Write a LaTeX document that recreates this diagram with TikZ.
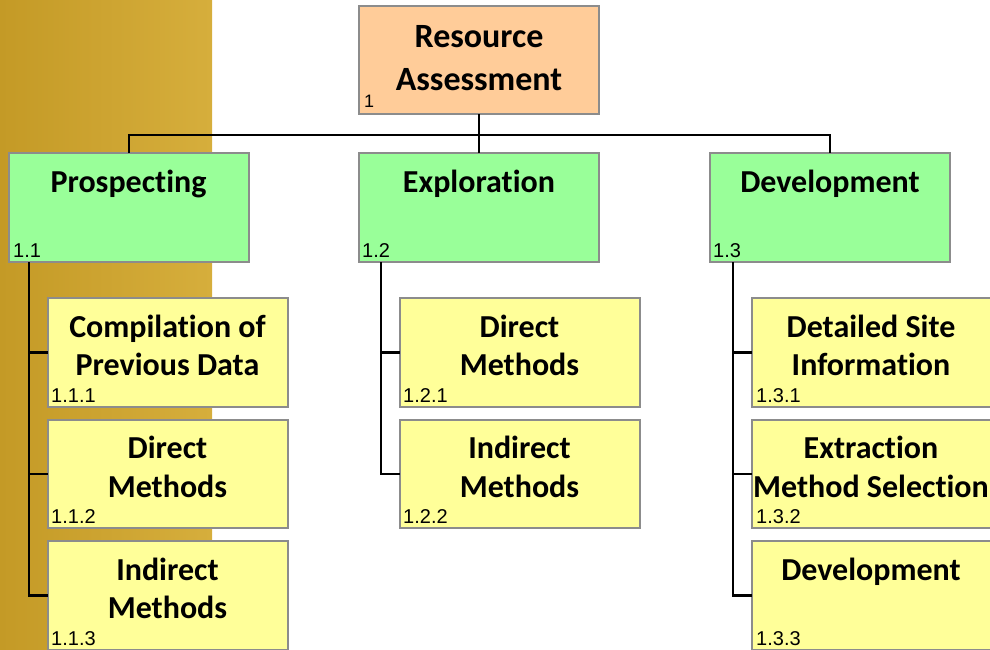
\documentclass[tikz,border=0pt]{standalone}
\usepackage{fontspec}
\newfontfamily\calb{Carlito}[BoldFont=* Bold, Ligatures=NoCommon]
\newfontfamily\arialf{Liberation Sans}
\definecolor{peach}{HTML}{FFCC99}
\definecolor{lgreen}{HTML}{99FF99}
\definecolor{lyellow}{HTML}{FFFF99}
\definecolor{boxgray}{HTML}{8C8C8C}
\definecolor{goldL}{HTML}{C49A26}
\definecolor{goldR}{HTML}{D6AE3C}
\begin{document}
\begin{tikzpicture}[x=1pt,y=-1pt,
  box/.style={draw=boxgray, line width=1.5pt, inner sep=0pt, outer sep=0pt, minimum width=240pt, minimum height=109pt, anchor=north west},
  rootbox/.style={box, fill=peach, minimum height=108pt},
  l1box/.style={box, fill=lgreen},
  l2box/.style={box, fill=lyellow},
  title/.style={font=\calb\bfseries\fontsize{32}{38}\selectfont, anchor=base, inner sep=0pt},
  roottitle/.style={title, font=\calb\bfseries\fontsize{34}{41}\selectfont},
  num/.style={font=\arialf\fontsize{20}{24}\selectfont, anchor=base west, inner sep=0pt},
  conn/.style={line width=2.8pt, black, line join=miter}]
\useasboundingbox (0,0) rectangle (990,649);
\fill[left color=goldL, right color=goldR] (0,0) rectangle (212,649);

% boxes
\node[rootbox] (n1) at (359,6) {};
\node[l1box] (n11) at (9,153) {};
\node[l1box] (n12) at (359,153) {};
\node[l1box] (n13) at (710,153) {};
\node[l2box] (n111) at (48,298) {};
\node[l2box, minimum height=108pt] (n112) at (48,420) {};
\node[l2box] (n113) at (48,541) {};
\node[l2box] (n121) at (400,298) {};
\node[l2box, minimum height=108pt] (n122) at (400,420) {};
\node[l2box] (n131) at (752,298) {};
\node[l2box, minimum height=108pt] (n132) at (752,420) {};
\node[l2box] (n133) at (752,541) {};

% connectors
\coordinate (bus) at (479,135);
\draw[conn] (n1.south) -- (n12.north);
\draw[conn] (n11.north) -- (n11.north |- bus) -- (n13.north |- bus) -- (n13.north);
\draw[conn] ([xshift=20pt]n11.south west) |- (n111.west);
\draw[conn] ([xshift=20pt]n11.south west) |- (n112.west);
\draw[conn] ([xshift=20pt]n11.south west) |- (n113.west);
\draw[conn] ([xshift=22pt]n12.south west) |- (n121.west);
\draw[conn] ([xshift=22pt]n12.south west) |- (n122.west);
\draw[conn] ([xshift=23pt]n13.south west) |- (n131.west);
\draw[conn] ([xshift=23pt]n13.south west) |- (n132.west);
\draw[conn] ([xshift=23pt]n13.south west) |- (n133.west);

% titles
\node[roottitle] (t1a) at (479,47) {Resource};
\node[roottitle] (t1b) at (479,90) {Assessment};
\node[title] (t11) at (128.5,192) {Prospecting};
\node[title] (t12) at (479,192) {Exploration};
\node[title] (t13) at (830,192) {Development};
\node[title] (t111a) at (167.5,337) {Compilation of};
\node[title] (t111b) at (167.5,375) {Previous Data};
\node[title] (t112a) at (167.5,458) {Direct};
\node[title] (t112b) at (167.5,497) {Methods};
\node[title] (t113a) at (167.5,580) {Indirect};
\node[title] (t113b) at (167.5,618) {Methods};
\node[title] (t121a) at (519.5,337) {Direct};
\node[title] (t121b) at (519.5,375) {Methods};
\node[title] (t122a) at (519.5,458) {Indirect};
\node[title] (t122b) at (519.5,497) {Methods};
\node[title] (t131a) at (871,337) {Detailed Site};
\node[title] (t131b) at (871,375) {Information};
\node[title] (t132a) at (871,458) {Extraction};
\node[title] (t132b) at (871,497) {Method Selection};
\node[title] (t133) at (871,580) {Development};

% numbers
\node[num, font=\arialf\fontsize{18}{22}\selectfont] (c1) at (364,107) {1};
\node[num] (c11) at (13,257) {1.1};
\node[num] (c12) at (362,257) {1.2};
\node[num] (c13) at (713,257) {1.3};
\node[num] (c111) at (51,402) {1.1.1};
\node[num] (c112) at (51,523) {1.1.2};
\node[num] (c113) at (51,645) {1.1.3};
\node[num] (c121) at (403,402) {1.2.1};
\node[num] (c122) at (403,523) {1.2.2};
\node[num] (c131) at (756,402) {1.3.1};
\node[num] (c132) at (756,523) {1.3.2};
\node[num] (c133) at (756,645) {1.3.3};
\end{tikzpicture}
\end{document}
